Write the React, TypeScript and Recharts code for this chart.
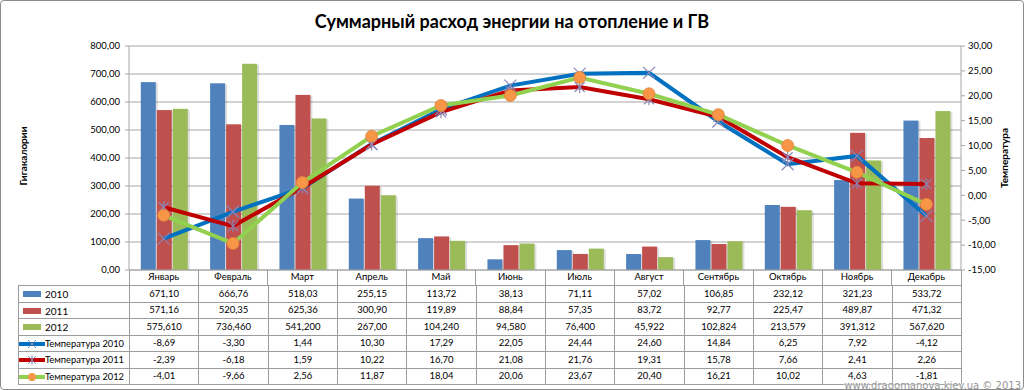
import React from 'react';
import { ComposedChart, Bar, Line, XAxis, YAxis, CartesianGrid } from 'recharts';

const months = ['Январь', 'Февраль', 'Март', 'Апрель', 'Май', 'Июнь', 'Июль', 'Август', 'Сентябрь', 'Октябрь', 'Ноябрь', 'Декабрь'];

const energy2010 = [671.10, 666.76, 518.03, 255.15, 113.72, 38.13, 71.11, 57.02, 106.85, 232.12, 321.23, 533.72];
const energy2011 = [571.16, 520.35, 625.36, 300.90, 119.89, 88.84, 57.35, 83.72, 92.77, 225.47, 489.87, 471.32];
const energy2012 = [575.610, 736.460, 541.200, 267.00, 104.240, 94.580, 76.400, 45.922, 102.824, 213.579, 391.312, 567.620];

const temp2010 = [-8.69, -3.30, 1.44, 10.30, 17.29, 22.05, 24.44, 24.60, 14.84, 6.25, 7.92, -4.12];
const temp2011 = [-2.39, -6.18, 1.59, 10.22, 16.70, 21.08, 21.76, 19.31, 15.78, 7.66, 2.41, 2.26];
const temp2012 = [-4.01, -9.66, 2.56, 11.87, 18.04, 20.06, 23.67, 20.40, 16.21, 10.02, 4.63, -1.81];

const energyTicks = [0, 100, 200, 300, 400, 500, 600, 700, 800];
const tempTicks = [-15, -10, -5, 0, 5, 10, 15, 20, 25, 30];

const data = months.map((month, i) => ({
  month,
  e2010: energy2010[i],
  e2011: energy2011[i],
  e2012: energy2012[i],
  t2010: temp2010[i],
  t2011: temp2011[i],
  t2012: temp2012[i],
}));

const comma = (v: number, d: number) => v.toFixed(d).replace('.', ',');
const fmt2 = (v: number) => comma(v, 2);
// the 2012 row was typed with three decimals, except one whole number
const fmt2012 = (v: number) => comma(v, Number.isInteger(v) ? 2 : 3);

const C = {
  b2010: '#4F81BD',
  b2011: '#C0504D',
  b2012: '#9BBB59',
  l2010: '#0070C0',
  l2011: '#C00000',
  l2012: '#92D050',
  marker: '#F79646',
  cross: '#8A86B8',
  grid: '#A6A6A6',
  border: '#9C9C9C',
};

const FONT = 'Lato, "Open Sans", sans-serif';

const PLOT_LEFT = 128;
const COL_W = 832 / 12;

// bar with a faint Excel-like drop shadow
const ShadowBar = (props: any) => {
  const { x, y, width, height, fill } = props;
  if (width == null || height == null || height <= 0) return null;
  return (
    <g>
      <rect x={x + 2} y={y + 1} width={width} height={height - 1} fill="rgba(0,0,0,0.13)" />
      <rect x={x} y={y} width={width} height={height} fill={fill} />
    </g>
  );
};

const CrossDot = (props: any) => {
  const { cx, cy } = props;
  if (cx == null || cy == null) return null;
  return (
    <g stroke={C.cross} strokeWidth={1.2}>
      <line x1={cx - 6} y1={cy - 6} x2={cx + 6} y2={cy + 6} />
      <line x1={cx - 6} y1={cy + 6} x2={cx + 6} y2={cy - 6} />
    </g>
  );
};

const StarDot = (props: any) => {
  const { cx, cy } = props;
  if (cx == null || cy == null) return null;
  return (
    <g stroke={C.cross} strokeWidth={1.2}>
      <line x1={cx - 5} y1={cy - 5} x2={cx + 5} y2={cy + 5} />
      <line x1={cx - 5} y1={cy + 5} x2={cx + 5} y2={cy - 5} />
      <line x1={cx} y1={cy - 6} x2={cx} y2={cy + 6} />
    </g>
  );
};

const CircleDot = (props: any) => {
  const { cx, cy } = props;
  if (cx == null || cy == null) return null;
  return <circle cx={cx} cy={cy} r={6} fill={C.marker} stroke="#E0843C" strokeWidth={0.8} />;
};

const rows = [
  { label: '2010', kind: 'bar', color: C.b2010, values: energy2010.map(fmt2) },
  { label: '2011', kind: 'bar', color: C.b2011, values: energy2011.map(fmt2) },
  { label: '2012', kind: 'bar', color: C.b2012, values: energy2012.map(fmt2012) },
  { label: 'Температура 2010', kind: 'cross', color: C.l2010, values: temp2010.map(fmt2) },
  { label: 'Температура 2011', kind: 'star', color: C.l2011, values: temp2011.map(fmt2) },
  { label: 'Температура 2012', kind: 'circle', color: C.l2012, values: temp2012.map(fmt2) },
];

const LegendKey = ({ kind, color }: { kind: string; color: string }) => {
  if (kind === 'bar') {
    return (
      <svg width={26} height={10} style={{ verticalAlign: 'middle' }}>
        <rect x={4} y={2} width={18} height={6} fill={color} />
      </svg>
    );
  }
  return (
    <svg width={26} height={12} style={{ verticalAlign: 'middle' }}>
      <line x1={0} y1={6} x2={26} y2={6} stroke={color} strokeWidth={4} />
      {kind === 'circle' ? (
        <circle cx={13} cy={6} r={4} fill={C.marker} />
      ) : (
        <g stroke={C.cross} strokeWidth={1}>
          <line x1={9} y1={2} x2={17} y2={10} />
          <line x1={9} y1={10} x2={17} y2={2} />
          {kind === 'star' && <line x1={13} y1={1} x2={13} y2={11} />}
        </g>
      )}
    </svg>
  );
};

export default function App() {
  return (
    <div
      style={{
        position: 'absolute',
        left: 0,
        top: 0,
        width: 1022,
        height: 388,
        border: '1px solid #8C8C8C',
        borderRadius: 4,
        background: '#fff',
        fontFamily: FONT,
        overflow: 'hidden',
      }}
    >
      <div
        style={{
          position: 'absolute',
          left: 0,
          top: 9,
          width: 1022,
          textAlign: 'center',
          fontWeight: 700,
          fontSize: 18,
          color: '#000',
        }}
      >
        Суммарный расход энергии на отопление и ГВ
      </div>

      <div
        style={{
          position: 'absolute',
          left: 22,
          top: 155,
          transform: 'translate(-50%, -50%) rotate(-90deg)',
          fontSize: 10,
          fontWeight: 700,
          whiteSpace: 'nowrap',
        }}
      >
        Гигакалории
      </div>
      <div
        style={{
          position: 'absolute',
          left: 1003,
          top: 157,
          transform: 'translate(-50%, -50%) rotate(-90deg)',
          fontSize: 10,
          fontWeight: 700,
          whiteSpace: 'nowrap',
        }}
      >
        Температура
      </div>

      <div style={{ position: 'absolute', left: 0, top: 0 }}>
        <ComposedChart
          width={1024}
          height={285}
          data={data}
          margin={{ top: 45, right: 0, bottom: 0, left: 0 }}
          barCategoryGap="17%"
          barGap={1}
        >
          <CartesianGrid yAxisId="e" vertical={false} stroke={C.grid} />
          <XAxis
            dataKey="month"
            height={16}
            tickSize={0}
            tickMargin={3}
            axisLine={{ stroke: C.grid }}
            tick={{ fontSize: 9.5, fill: '#000', fontFamily: FONT }}
            interval={0}
          />
          <YAxis
            yAxisId="e"
            width={128}
            domain={[0, 800]}
            ticks={energyTicks}
            tickFormatter={fmt2}
            tickSize={4}
            tickMargin={5}
            axisLine={{ stroke: C.grid }}
            tickLine={{ stroke: C.grid }}
            tick={{ fontSize: 9.5, fill: '#000', fontFamily: FONT }}
          />
          <YAxis
            yAxisId="t"
            orientation="right"
            width={64}
            domain={[-15, 30]}
            ticks={tempTicks}
            tickFormatter={fmt2}
            tickSize={4}
            tickMargin={3}
            axisLine={{ stroke: C.grid }}
            tickLine={{ stroke: C.grid }}
            tick={{ fontSize: 9.5, fill: '#000', fontFamily: FONT }}
          />
          <Bar yAxisId="e" dataKey="e2010" fill={C.b2010} shape={<ShadowBar />} isAnimationActive={false} />
          <Bar yAxisId="e" dataKey="e2011" fill={C.b2011} shape={<ShadowBar />} isAnimationActive={false} />
          <Bar yAxisId="e" dataKey="e2012" fill={C.b2012} shape={<ShadowBar />} isAnimationActive={false} />
          <Line
            yAxisId="t"
            type="linear"
            dataKey="t2010"
            stroke={C.l2010}
            strokeWidth={4}
            dot={<CrossDot />}
            activeDot={false}
            isAnimationActive={false}
          />
          <Line
            yAxisId="t"
            type="linear"
            dataKey="t2011"
            stroke={C.l2011}
            strokeWidth={4}
            dot={<StarDot />}
            activeDot={false}
            isAnimationActive={false}
          />
          <Line
            yAxisId="t"
            type="linear"
            dataKey="t2012"
            stroke={C.l2012}
            strokeWidth={4}
            dot={<CircleDot />}
            activeDot={false}
            isAnimationActive={false}
          />
        </ComposedChart>
      </div>

      {months.concat(['']).map((m, i) => (
        <div
          key={'sep' + i}
          style={{
            position: 'absolute',
            left: PLOT_LEFT + i * COL_W - 0.5,
            top: 269,
            width: 1,
            height: 16,
            background: C.border,
          }}
        />
      ))}

      <table
        style={{
          position: 'absolute',
          left: 17,
          top: 284,
          borderCollapse: 'collapse',
          tableLayout: 'fixed',
          width: 111 + 832,
          fontSize: 9.5,
          color: '#000',
        }}
      >
        <colgroup>
          <col style={{ width: 111 }} />
          {months.map((m) => (
            <col key={m} style={{ width: COL_W }} />
          ))}
        </colgroup>
        <tbody>
          {rows.map((r) => (
            <tr key={r.label} style={{ height: 16.5 }}>
              <td
                style={{
                  border: `1px solid ${C.border}`,
                  padding: 0,
                  whiteSpace: 'nowrap',
                  overflow: 'hidden',
                  lineHeight: '14px',
                }}
              >
                <LegendKey kind={r.kind} color={r.color} />
                <span style={{ verticalAlign: 'middle', fontSize: r.kind === 'bar' ? 10 : 9.3 }}>{r.label}</span>
              </td>
              {r.values.map((v, i) => (
                <td
                  key={i}
                  style={{
                    border: `1px solid ${C.border}`,
                    padding: 0,
                    textAlign: 'center',
                    lineHeight: '14px',
                  }}
                >
                  {v}
                </td>
              ))}
            </tr>
          ))}
        </tbody>
      </table>

      <div
        style={{
          position: 'absolute',
          right: 2,
          bottom: -2,
          fontFamily: '"DejaVu Sans", sans-serif',
          fontSize: 10,
          color: '#959595',
          textShadow: '0 0 2px #fff, 0 0 2px #fff',
          whiteSpace: 'nowrap',
        }}
      >
        www.dragomanova.kiev.ua © 2013
      </div>
    </div>
  );
}
